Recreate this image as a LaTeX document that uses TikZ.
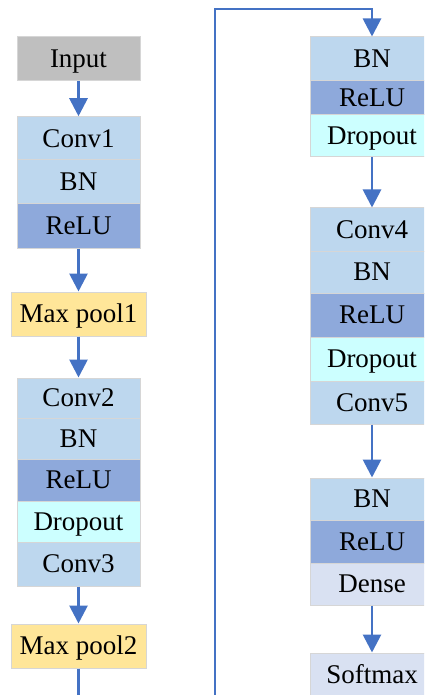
\documentclass[tikz,border=0pt]{standalone}
\usepackage{fontspec}
\setmainfont{Liberation Serif}
\usetikzlibrary{arrows.meta}

\definecolor{inputgray}{HTML}{BFBFBF}
\definecolor{convblue}{HTML}{BDD7EE}
\definecolor{relublue}{HTML}{8EA9DB}
\definecolor{dropcyan}{HTML}{CCFFFF}
\definecolor{poolyellow}{HTML}{FFE699}
\definecolor{denselav}{HTML}{D9E1F2}
\definecolor{edgegray}{HTML}{D6D6D6}
\definecolor{linkblue}{HTML}{4472C4}

\tikzset{
  layer/.style={draw=edgegray, line width=0.5pt, inner sep=0pt,
    text height=8.9pt, text depth=0pt,
    font=\fontsize{13.5}{15}\selectfont, text=black},
  leftcol/.style={layer, minimum width=61.5pt},
  poolcol/.style={layer, minimum width=67.5pt, fill=poolyellow},
  rightcol/.style={layer, minimum width=62pt},
  conn/.style={draw=linkblue, line width=1.4pt},
  flow/.style={conn, -{Triangle[width=9pt,length=9pt]}},
}

\begin{document}
\begin{tikzpicture}[x=0.5pt, y=-0.5pt]
\useasboundingbox (0,0) rectangle (424,695);
\clip (0,0) rectangle (424,695);

% left column
\node[leftcol, fill=inputgray, minimum height=22pt] (inp) at (78.5,59) {Input};
\node[leftcol, fill=convblue, minimum height=21.75pt] (c1) at (78.5,138.5) {Conv1};
\node[leftcol, fill=convblue, minimum height=22pt] (bn1) at (78.5,182) {BN};
\node[leftcol, fill=relublue, minimum height=22pt] (r1) at (78.5,226) {ReLU};
\node[poolcol, minimum height=22pt] (mp1) at (78.5,314) {Max pool1};
\node[leftcol, fill=convblue, minimum height=20pt] (c2) at (78.5,398) {Conv2};
\node[leftcol, fill=convblue, minimum height=20.5pt] (bn2) at (78.5,438.5) {BN};
\node[leftcol, fill=relublue, minimum height=21pt] (r2) at (78.5,480) {ReLU};
\node[leftcol, fill=dropcyan, minimum height=20.5pt] (d2) at (78.5,521.5) {Dropout};
\node[leftcol, fill=convblue, minimum height=22pt] (c3) at (78.5,564) {Conv3};
\node[poolcol, minimum height=22pt] (mp2) at (78.5,646) {Max pool2};

% right column
\node[rightcol, fill=convblue, minimum height=22pt] (bn3) at (372,59) {BN};
\node[rightcol, fill=relublue, minimum height=17pt] (r3) at (372,98) {ReLU};
\node[rightcol, fill=dropcyan, minimum height=21pt] (d3) at (372,136) {Dropout};
\node[rightcol, fill=convblue, minimum height=21.5pt] (c4) at (372,229.5) {Conv4};
\node[rightcol, fill=convblue, minimum height=21pt] (bn4) at (372,272) {BN};
\node[rightcol, fill=relublue, minimum height=22pt] (r4) at (372,315) {ReLU};
\node[rightcol, fill=dropcyan, minimum height=22pt] (d4) at (372,359) {Dropout};
\node[rightcol, fill=convblue, minimum height=21.5pt] (c5) at (372,402.5) {Conv5};
\node[rightcol, fill=convblue, minimum height=21pt] (bn5) at (372,499) {BN};
\node[rightcol, fill=relublue, minimum height=21.5pt] (r5) at (372,541.5) {ReLU};
\node[rightcol, fill=denselav, minimum height=21pt] (dn) at (372,584) {Dense};
\node[rightcol, fill=denselav, minimum height=22pt] (sm) at (372,675) {Softmax};

% route from the second pooling layer over to the right column
\coordinate (lowL) at (78.5,720);
\coordinate (lowR) at (215,720);
\coordinate (topL) at (215,9);
\coordinate (topR) at (372,9);

% connectors
\draw[flow] (inp.south) -- (c1.north);
\draw[flow] (r1.south) -- (mp1.north);
\draw[flow] (mp1.south) -- (c2.north);
\draw[flow] (c3.south) -- (mp2.north);
\draw[flow] (mp2.south) -- (lowL) -- (lowR) -- (topL) -- (topR) -- (bn3.north);
\draw[flow] (d3.south) -- (c4.north);
\draw[flow] (c5.south) -- (bn5.north);
\draw[flow] (dn.south) -- (sm.north);
\end{tikzpicture}
\end{document}
